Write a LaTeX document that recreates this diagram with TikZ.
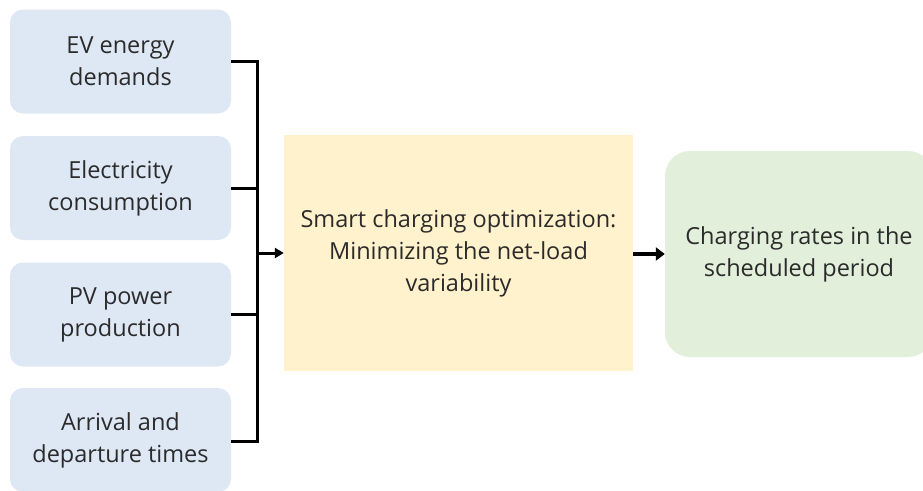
\documentclass[tikz,border=0pt]{standalone}
\usepackage{fontspec}
\setmainfont{Open Sans}
\usetikzlibrary{arrows.meta}
\definecolor{inblue}{HTML}{DEE8F5}
\definecolor{optyellow}{HTML}{FFF2CC}
\definecolor{outgreen}{HTML}{E2EFDA}
\definecolor{txtgray}{HTML}{2B2B2B}
\tikzset{
  inbox/.style={fill=inblue, draw=none, rounded corners=13pt, minimum width=221pt,
    minimum height=104pt, align=center, text=txtgray, inner sep=0pt},
  optbox/.style={fill=optyellow, draw=none, minimum width=349pt, minimum height=236pt,
    align=center, text=txtgray, inner sep=0pt},
  outbox/.style={fill=outgreen, draw=none, rounded corners=25pt, minimum width=268pt,
    minimum height=206pt, align=center, text=txtgray, inner sep=0pt},
  feed/.style={line width=3pt, black},
  bigarrow/.style={line width=4.5pt, black, -{Triangle[length=9pt,width=13pt]}},
  smallarrow/.style={line width=3pt, black, -{Triangle[length=9pt,width=10pt]}}
}
\begin{document}
\begin{tikzpicture}[x=1pt,y=-1pt,font=\fontsize{23.5}{32}\selectfont]
\useasboundingbox (0,0) rectangle (923,490);
\clip (0,0) rectangle (923,490);
\node[inbox] (ev) at (120.5,61.5) {EV energy\\demands};
\node[inbox] (el) at (120.5,188) {Electricity\\consumption};
\node[inbox] (pv) at (120.5,314.5) {PV power\\production};
\node[inbox] (ar) at (120.5,440) {Arrival and\\departure times};
\node[optbox] (opt) at (458.5,253) {Smart charging optimization:\\Minimizing the net-load\\variability};
\node[outbox] (out) at (799,254) {Charging rates in the\\scheduled period};
\coordinate (bt) at (257,61);
\coordinate (bb) at (257,441);
\coordinate (bm) at (257,253);
\draw[feed] (ev.east |- bt) -- (bt) -- (bb) -- (ar.east |- bb);
\draw[feed] (el.east) -- (el.east -| bt);
\draw[feed] (pv.east) -- (pv.east -| bt);
\draw[smallarrow] (bm) -- (opt.west |- bm);
\draw[bigarrow] (opt.east |- out.west) -- (out.west);
\end{tikzpicture}
\end{document}
